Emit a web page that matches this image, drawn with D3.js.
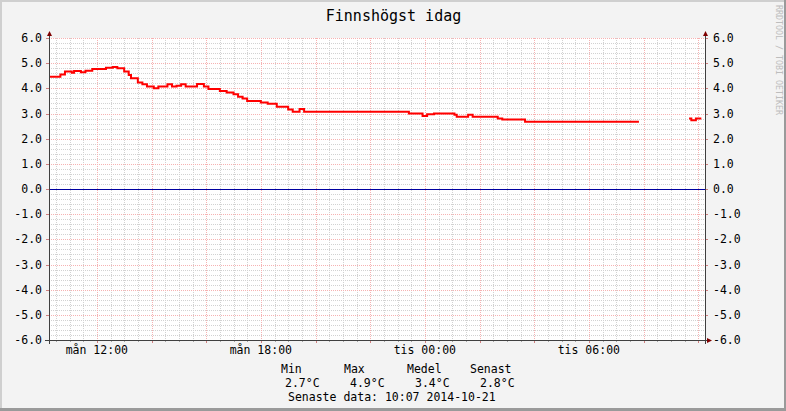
<!DOCTYPE html>
<html><head><meta charset="utf-8">
<script src="https://cdn.jsdelivr.net/npm/d3@7"></script>
<style>
html,body{margin:0;padding:0;background:#f3f3f3;}
svg{display:block;font-family:"DejaVu Sans Mono",monospace;}
</style>
</head><body>
<svg id="c" width="786" height="411"></svg>
<script>
// ---------- data ----------
const title = "Finnshögst idag";
const times = [
 "2014-10-20 10:15","2014-10-20 10:40","2014-10-20 10:50","2014-10-20 11:05","2014-10-20 11:10",
 "2014-10-20 11:25","2014-10-20 11:35","2014-10-20 11:50","2014-10-20 12:20","2014-10-20 12:35",
 "2014-10-20 12:45","2014-10-20 13:00","2014-10-20 13:10","2014-10-20 13:15","2014-10-20 13:30",
 "2014-10-20 13:40","2014-10-20 13:50","2014-10-20 14:05","2014-10-20 14:15","2014-10-20 14:35",
 "2014-10-20 14:45","2014-10-20 14:55","2014-10-20 15:05","2014-10-20 15:15","2014-10-20 15:40",
 "2014-10-20 15:55","2014-10-20 16:05","2014-10-20 16:30","2014-10-20 16:45","2014-10-20 17:00",
 "2014-10-20 17:10","2014-10-20 17:20","2014-10-20 17:30","2014-10-20 18:00","2014-10-20 18:15",
 "2014-10-20 18:35","2014-10-20 19:00","2014-10-20 19:10","2014-10-20 19:25","2014-10-20 19:35",
 "2014-10-20 23:25","2014-10-20 23:55","2014-10-21 00:05","2014-10-21 00:20","2014-10-21 01:05",
 "2014-10-21 01:10","2014-10-21 01:35","2014-10-21 01:45","2014-10-21 02:40","2014-10-21 02:50",
 "2014-10-21 03:40","2014-10-21 07:50","2014-10-21 07:55","2014-10-21 09:40","2014-10-21 09:45",
 "2014-10-21 09:55","2014-10-21 10:07"
];
const values = [
 4.46,4.55,4.67,4.62,4.69,
 4.64,4.70,4.77,4.82,4.85,
 4.80,4.67,4.53,4.40,4.23,
 4.16,4.07,4.00,4.07,4.16,
 4.07,4.10,4.16,4.07,4.17,
 4.07,3.97,3.89,3.83,3.76,
 3.67,3.60,3.50,3.44,3.39,
 3.27,3.16,3.07,3.18,3.07,
 3.00,2.90,2.97,3.00,2.95,
 2.87,2.95,2.87,2.80,2.76,
 2.67,2.67,null,2.80,2.73,
 2.80,2.80
];
const timeStart = "2014-10-20 10:15";
const timeEnd = "2014-10-21 10:15";
const yMin = -6, yMax = 6;
const yTickValues = [-6,-5,-4,-3,-2,-1,0,1,2,3,4,5,6];
const xTickTimes = ["2014-10-20 12:00","2014-10-20 18:00","2014-10-21 00:00","2014-10-21 06:00"];
const xTickLabels = ["mån 12:00","mån 18:00","tis 00:00","tis 06:00"];
const legendLabels = ["Min","Max","Medel","Senast"];
const legendValues = ["2.7°C","4.9°C","3.4°C","2.8°C"];
const lastUpdate = "Senaste data: 10:07 2014-10-21";
const watermark = "RRDTOOL / TOBI OETIKER";
const hrule = 0;

// ---------- layout ----------
const W = 786, H = 411;
const L = 49, R = 705, T = 38, B = 340;
const legendHeaderX = [281,344,407,470];
const legendValueX = [285,350,415,480];

const parse = d3.timeParse("%Y-%m-%d %H:%M");
const svg = d3.select("#c");
const x = d3.scaleTime().domain([parse(timeStart), parse(timeEnd)]).range([L, R]);
const y = d3.scaleLinear().domain([yMin, yMax]).range([B, T]);
const px = v => Math.round(v) + 0.5;

// background + shade frame
svg.append("rect").attr("width", W).attr("height", H).attr("fill", "#f3f3f3");
svg.append("rect").attr("x",0).attr("y",0).attr("width",W).attr("height",2).attr("fill","#cfcfcf");
svg.append("rect").attr("x",0).attr("y",0).attr("width",2).attr("height",H).attr("fill","#cfcfcf");
svg.append("rect").attr("x",0).attr("y",H-3).attr("width",W).attr("height",3).attr("fill","#9a9a9a");
svg.append("rect").attr("x",W-2).attr("y",0).attr("width",2).attr("height",H).attr("fill","#9a9a9a");

// canvas
svg.append("rect").attr("x", L).attr("y", T).attr("width", R - L).attr("height", B - T).attr("fill", "#ffffff");

const grid = svg.append("g").attr("shape-rendering", "crispEdges");
const minorCol = "#d2d2d2", majorCol = "#f6b2b2";

// horizontal minor grid (every 0.2)
const hMinor = d3.range(yMin * 5, yMax * 5 + 1).filter(i => i % 5 !== 0).map(i => i / 5);
grid.selectAll(".hmin").data(hMinor).join("line")
  .attr("x1", L).attr("x2", R).attr("y1", d => px(y(d))).attr("y2", d => px(y(d)))
  .attr("stroke", minorCol).attr("stroke-dasharray", "1,1");
// vertical minor grid (every 30 min)
const vAll = d3.timeMinute.every(30).range(x.domain()[0], x.domain()[1]);
const vMinor = vAll.filter(d => !(d.getMinutes() === 0 && d.getHours() % 2 === 0));
grid.selectAll(".vmin").data(vMinor).join("line")
  .attr("x1", d => px(x(d))).attr("x2", d => px(x(d))).attr("y1", T).attr("y2", B)
  .attr("stroke", minorCol).attr("stroke-dasharray", "1,1");
// major horizontal
grid.selectAll(".hmaj").data(yTickValues).join("line")
  .attr("x1", L).attr("x2", R).attr("y1", d => px(y(d))).attr("y2", d => px(y(d)))
  .attr("stroke", majorCol).attr("stroke-dasharray", "1,1");
// major vertical (every 2 h)
const vMajor = d3.timeHour.every(2).range(x.domain()[0], x.domain()[1]);
grid.selectAll(".vmaj").data(vMajor).join("line")
  .attr("x1", d => px(x(d))).attr("x2", d => px(x(d))).attr("y1", T).attr("y2", B)
  .attr("stroke", majorCol).attr("stroke-dasharray", "1,1");

// ticks on axes
const ticks = svg.append("g").attr("shape-rendering", "crispEdges");
ticks.selectAll(".tl").data(yTickValues).join("line")
  .attr("x1", L - 3).attr("x2", L).attr("y1", d => px(y(d))).attr("y2", d => px(y(d)))
  .attr("stroke", "#d08080");
ticks.selectAll(".tr").data(yTickValues).join("line")
  .attr("x1", R).attr("x2", R + 3).attr("y1", d => px(y(d))).attr("y2", d => px(y(d)))
  .attr("stroke", "#d08080");
ticks.selectAll(".tb").data(vMajor).join("line")
  .attr("x1", d => px(x(d))).attr("x2", d => px(x(d))).attr("y1", B).attr("y2", B + 3)
  .attr("stroke", "#d08080");
ticks.selectAll(".tbm").data(vMinor).join("line")
  .attr("x1", d => px(x(d))).attr("x2", d => px(x(d))).attr("y1", B).attr("y2", B + 2)
  .attr("stroke", "#a8a8a8");

// zero rule
svg.append("line").attr("shape-rendering", "crispEdges")
  .attr("x1", L).attr("x2", R).attr("y1", px(y(hrule))).attr("y2", px(y(hrule)))
  .attr("stroke", "#0000a0").attr("stroke-width", 1);

// data line
const pts = times.map((t, i) => ({ t: parse(t), v: values[i] }));
const line = d3.line().defined(d => d.v !== null)
  .x(d => x(d.t)).y(d => y(d.v)).curve(d3.curveStepAfter);
svg.append("path").datum(pts).attr("d", line)
  .attr("fill", "none").attr("stroke", "#ff0000").attr("stroke-width", 2)
  .attr("stroke-linejoin", "miter");

// axes
const axisCol = "#404040", arrowCol = "#7f0000";
const ax = svg.append("g").attr("shape-rendering", "crispEdges");
ax.append("line").attr("x1", px(L)).attr("x2", px(L)).attr("y1", B + 4).attr("y2", T - 4).attr("stroke", axisCol);
ax.append("line").attr("x1", px(R)).attr("x2", px(R)).attr("y1", B + 4).attr("y2", T - 4).attr("stroke", axisCol);
ax.append("line").attr("x1", L - 4).attr("x2", R + 4).attr("y1", px(B)).attr("y2", px(B)).attr("stroke", axisCol);
const arrows = svg.append("g").attr("fill", arrowCol);
[L, R].forEach(xx => {
  const cx = px(xx);
  arrows.append("path").attr("d", `M${cx - 2.5},${T - 2} L${cx + 2.5},${T - 2} L${cx},${T - 7} Z`);
});
arrows.append("path").attr("d", `M${R + 2},${px(B) - 2.5} L${R + 2},${px(B) + 2.5} L${R + 7},${px(B)} Z`);

// y labels
const fmt = v => v.toFixed(1);
svg.append("g").selectAll("text").data(yTickValues).join("text")
  .attr("x", 42).attr("y", d => y(d) + 4).attr("text-anchor", "end")
  .attr("font-size", "11.5px").attr("fill", "#000").text(fmt);
svg.append("g").selectAll("text").data(yTickValues).join("text")
  .attr("x", 713).attr("y", d => y(d) + 4).attr("text-anchor", "start")
  .attr("font-size", "11.5px").attr("fill", "#000").text(fmt);

// x labels
svg.append("g").selectAll("text").data(xTickTimes).join("text")
  .attr("x", d => x(parse(d))).attr("y", 354).attr("text-anchor", "middle")
  .attr("font-size", "11.5px").attr("fill", "#000")
  .text((d, i) => xTickLabels[i]);

// title
svg.append("text").attr("x", 393.5).attr("y", 21).attr("text-anchor", "middle")
  .attr("font-size", "15px").attr("fill", "#000").text(title);

// watermark
svg.append("text").attr("transform", "translate(775.5,5) rotate(90)")
  .attr("font-size", "8.3px").attr("fill", "#bdbdbd").text(watermark);

// legend
svg.append("g").selectAll("text").data(legendLabels).join("text")
  .attr("x", (d, i) => legendHeaderX[i]).attr("y", 373)
  .attr("font-size", "11.5px").attr("fill", "#000").text(d => d);
svg.append("g").selectAll("text").data(legendValues).join("text")
  .attr("x", (d, i) => legendValueX[i]).attr("y", 387)
  .attr("font-size", "11.5px").attr("fill", "#000").text(d => d);
svg.append("text").attr("x", 288).attr("y", 401)
  .attr("font-size", "11.5px").attr("fill", "#000").text(lastUpdate);
</script>
</body></html>
